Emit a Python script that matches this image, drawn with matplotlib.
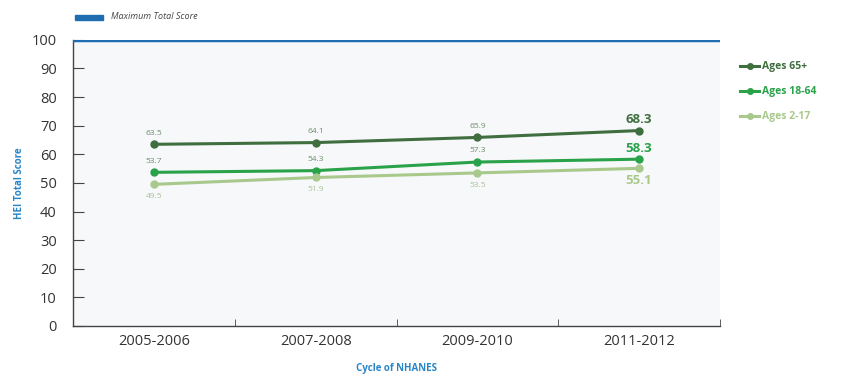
import matplotlib
matplotlib.use("Agg")
import matplotlib.pyplot as plt
from matplotlib.lines import Line2D
from matplotlib.patches import Rectangle

plt.rcParams['font.family'] = ['Open Sans', 'DejaVu Sans']

cycles = ["2005-2006", "2007-2008", "2009-2010", "2011-2012"]
series_names = ["Ages 65+", "Ages 18-64", "Ages 2-17"]
ages_65 = [63.5, 64.1, 65.9, 68.3]
ages_18_64 = [53.7, 54.3, 57.3, 58.3]
ages_2_17 = [49.5, 51.9, 53.5, 55.1]
max_score = 100
y_ticks = list(range(0, 101, 10))

colors = ["#3f6e3f", "#2aa24a", "#a9c98c"]
label_pos = ["above", "above", "below"]

fig = plt.figure(figsize=(8.43, 3.76), dpi=100)
ax = fig.add_axes([0.087, 0.133, 0.767, 0.761])
ax.set_facecolor("#f7f8fa")

x = list(range(len(cycles)))
all_series = [ages_65, ages_18_64, ages_2_17]
for vals, col, pos in zip(all_series, colors, label_pos):
    ax.plot(x, vals, color=col, lw=2.2, marker="o", ms=5, zorder=3,
            solid_capstyle="round")
    for i, v in enumerate(vals):
        last = i == len(vals) - 1
        off = 8 if pos == "above" else -9
        ax.annotate(f"{v:.1f}", (i, v), xytext=(0, off), textcoords="offset points",
                    ha="center", va="center",
                    fontsize=9.5 if last else 6,
                    fontweight="bold" if last else "normal",
                    color=col if last else ("#6b8c6b" if pos == "above" else "#a9c09a"))

ax.axhline(max_score, color="#1f6db0", lw=2.5, zorder=4)

ax.set_xlim(-0.5, 3.5)
ax.set_ylim(0, 100)
ax.set_xticks(x)
ax.set_xticklabels(cycles, fontsize=10.5, color="#333333")
ax.set_xticks([-0.5, 0.5, 1.5, 2.5, 3.5], minor=True)
ax.tick_params(axis="x", which="major", length=0, pad=6)
ax.tick_params(axis="x", which="minor", length=5, direction="in", color="#444444")
ax.set_yticks(y_ticks)
ax.tick_params(axis="y", length=8, direction="in", color="#444444",
               labelsize=10.5, labelcolor="#333333", pad=12)

for s in ["top", "right"]:
    ax.spines[s].set_visible(False)
for s in ["left", "bottom"]:
    ax.spines[s].set_color("#444444")
    ax.spines[s].set_linewidth(1.0)

ax.set_ylabel("HEI Total Score", fontsize=7, fontweight="bold", color="#2a86c8", labelpad=5)
ax.set_xlabel("Cycle of NHANES", fontsize=7, fontweight="bold", color="#2a86c8", labelpad=10)

# top key for the maximum score line
fig.patches.append(Rectangle((0.089, 0.947), 0.033, 0.014, transform=fig.transFigure,
                             color="#1f6db0"))
fig.text(0.132, 0.955, "Maximum Total Score", fontsize=6.5, style="italic",
         color="#444444", va="center")

# series key on the right
handles = [Line2D([0], [0], color=c, lw=2.2, marker="o", ms=4, markevery=[0])
           for c in colors]
leg = fig.legend(handles, series_names, loc="upper left", bbox_to_anchor=(0.867, 0.862),
                 frameon=False, fontsize=7.5, handlelength=1.8, handletextpad=0.3,
                 labelspacing=1.35)
for t, c in zip(leg.get_texts(), colors):
    t.set_color(c)
    t.set_fontweight("bold")

fig.savefig("out.png", dpi=100)
